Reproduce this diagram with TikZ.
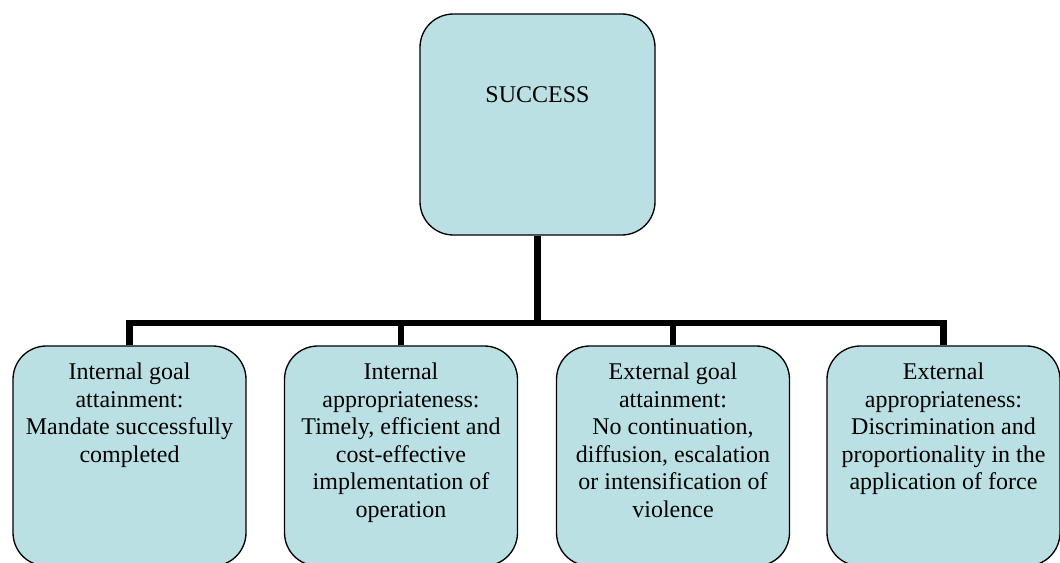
\documentclass[tikz,border=0pt]{standalone}
\usepackage{fontspec}
\setmainfont{Liberation Serif}
\begin{document}
\begin{tikzpicture}[x=0.75pt,y=-0.75pt,
  card/.style={draw=black,line width=1pt,fill=cardfill,rounded corners=25pt,
    minimum width=233*0.75pt,inner sep=0pt},
  cardtext/.style={anchor=north,align=center,inner sep=0pt,
    font=\fontsize{18}{20.6}\selectfont},
  tree/.style={line width=5pt,line join=miter}]
\definecolor{cardfill}{RGB}{186,224,227}
\useasboundingbox (0,0) rectangle (1060,563);

% root
\node[card,minimum width=235*0.75pt,minimum height=221*0.75pt] (root) at (537.5,124.5) {};
\node[anchor=base,inner sep=0pt,font=\fontsize{18}{20.6}\selectfont] (roottext) at (537.5,103) {SUCCESS};

% leaves
\node[card,minimum height=220*0.75pt] (b1) at (129.5,456) {};
\node[card,minimum height=220*0.75pt] (b2) at (401,456) {};
\node[card,minimum height=220*0.75pt] (b3) at (673,456) {};
\node[card,minimum height=220*0.75pt] (b4) at (943.5,456) {};

\node[cardtext] (t1) at ([yshift=-17.5*0.75pt]b1.north) {Internal goal\\attainment:\\Mandate successfully\\completed};
\node[cardtext] (t2) at ([yshift=-17.5*0.75pt]b2.north) {Internal\\appropriateness:\\Timely, efficient and\\cost-effective\\implementation of\\operation};
\node[cardtext] (t3) at ([yshift=-17.5*0.75pt]b3.north) {External goal\\attainment:\\No continuation,\\diffusion, escalation\\or intensification of\\violence};
\node[cardtext] (t4) at ([yshift=-17.5*0.75pt]b4.north) {External\\appropriateness:\\Discrimination and\\proportionality in the\\application of force};

% connectors
\coordinate (bar) at (537.5,323);
\draw[tree] (root.south) -- (bar);
\draw[tree] (b1.north) -- (b1.north |- bar) -- (b4.north |- bar) -- (b4.north);
\draw[tree] (b2.north) -- (b2.north |- bar);
\draw[tree] (b3.north) -- (b3.north |- bar);
\end{tikzpicture}
\end{document}
